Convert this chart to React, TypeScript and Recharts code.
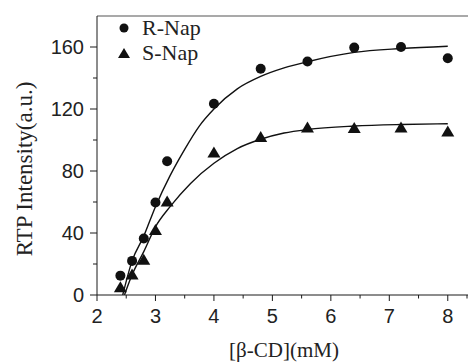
import React from 'react';
import { ComposedChart, Label, Line, ReferenceLine, Scatter, XAxis, YAxis } from 'recharts';

// measured points
const concX = [2.4, 2.6, 2.8, 3.0, 3.2, 4.0, 4.8, 5.6, 6.4, 7.2, 8.0];
const rNap = [12.5, 22, 36.4, 59.7, 86.3, 123.4, 146, 150.6, 159.6, 160, 152.7];
const sNap = [5, 13.3, 22.8, 42, 60.3, 92, 102, 108, 107.8, 108, 105.5];

// fitted curves
const rFitX = [2.44, 2.6, 2.8, 3.0, 3.25, 3.5, 3.75, 4.0, 4.4, 4.8, 5.2, 5.6, 6.4, 7.2, 8.0];
const rFitY = [0, 22, 38, 57, 77, 94, 109, 120, 133, 141, 146.5, 150.5, 156.5, 159, 160.5];
const sFitX = [2.47, 2.6, 2.8, 3.0, 3.25, 3.6, 4.0, 4.4, 4.8, 5.2, 5.6, 6.4, 7.2, 8.0];
const sFitY = [0, 13, 28, 44, 57, 72, 85, 94.5, 100.5, 104.5, 106.8, 109, 110, 110.5];

const xTicks = [2, 2.5, 3, 3.5, 4, 4.5, 5, 5.5, 6, 6.5, 7, 7.5, 8, 8.5];
const yTicks = [0, 20, 40, 60, 80, 100, 120, 140, 160];

const AXIS = '#1a1a1a';
const SANS = '"Liberation Sans", Arial, sans-serif';
const SERIF = '"Liberation Serif", "Times New Roman", serif';

const zip = (xs: number[], ys: number[]) => xs.map((x, i) => ({ x, y: ys[i] }));
const rPoints = zip(concX, rNap);
const sPoints = zip(concX, sNap);
const rFit = zip(rFitX, rFitY);
const sFit = zip(sFitX, sFitY);

function XTick({ x, y, payload }: any) {
  const major = Number.isInteger(payload.value);
  return (
    <g>
      <line x1={x} x2={x} y1={y} y2={y + (major ? 6 : 3.5)} stroke={AXIS} strokeWidth={1} />
      {major && payload.value <= 8 ? (
        <text x={x} y={y + 28} textAnchor="middle" fontFamily={SANS} fontSize={20} fill="#222">
          {payload.value}
        </text>
      ) : null}
    </g>
  );
}

function YTick({ x, y, payload }: any) {
  const major = payload.value % 40 === 0;
  return (
    <g>
      <line x1={x} x2={x - (major ? 7 : 4)} y1={y} y2={y} stroke={AXIS} strokeWidth={1} />
      {major ? (
        <text x={x - 13} y={y} dy="0.36em" textAnchor="end" fontFamily={SANS} fontSize={20} fill="#222">
          {payload.value}
        </text>
      ) : null}
    </g>
  );
}

const Dot = ({ cx, cy }: any) => <circle cx={cx} cy={cy} r={5} fill="#111" />;
const Tri = ({ cx, cy }: any) => (
  <polygon points={`${cx},${cy - 6} ${cx - 6.5},${cy + 5} ${cx + 6.5},${cy + 5}`} fill="#111" />
);

export default function App() {
  return (
    <div style={{ position: 'absolute', left: 0, top: 0, width: 468, height: 363, overflow: 'hidden', background: '#fff' }}>
      <ComposedChart width={477} height={363} margin={{ top: 16, right: 0, left: 37, bottom: 38 }}>
        <XAxis
          type="number"
          dataKey="x"
          domain={[2, 8.5]}
          ticks={xTicks}
          allowDataOverflow
          stroke={AXIS}
          tickSize={0}
          tickMargin={0}
          tick={<XTick />}
          height={30}
        >
          <Label
            content={() => (
              <text x={284} y={357} textAnchor="middle" fontFamily={SERIF} fontSize={21} fill="#222">
                [β-CD](mM)
              </text>
            )}
          />
        </XAxis>
        <YAxis
          type="number"
          dataKey="y"
          domain={[0, 180]}
          ticks={yTicks}
          allowDataOverflow
          stroke={AXIS}
          tickSize={0}
          tickMargin={0}
          tick={<YTick />}
          width={60}
        >
          <Label
            content={() => (
              <text
                x={32}
                y={169}
                transform="rotate(-90 32 169)"
                textAnchor="middle"
                fontFamily={SERIF}
                fontSize={23}
                fill="#222"
              >
                RTP Intensity(a.u.)
              </text>
            )}
          />
        </YAxis>
        <ReferenceLine y={180} stroke="#555" strokeWidth={1.2} />
        <Line data={rFit} dataKey="y" type="monotone" stroke="#111" strokeWidth={1.4} dot={false} isAnimationActive={false} />
        <Line data={sFit} dataKey="y" type="monotone" stroke="#111" strokeWidth={1.4} dot={false} isAnimationActive={false} />
        <Scatter name="R-Nap" data={rPoints} dataKey="y" shape={<Dot />} isAnimationActive={false} />
        <Scatter name="S-Nap" data={sPoints} dataKey="y" shape={<Tri />} isAnimationActive={false} />
      </ComposedChart>
      <div style={{ position: 'absolute', left: 116, top: 15, fontFamily: SERIF, fontSize: 22, color: '#222', lineHeight: '25px' }}>
        <div style={{ display: 'flex', alignItems: 'center' }}>
          <svg width={16} height={16} style={{ marginRight: 10 }}>
            <circle cx={8} cy={8} r={4.5} fill="#111" />
          </svg>
          R-Nap
        </div>
        <div style={{ display: 'flex', alignItems: 'center' }}>
          <svg width={16} height={16} style={{ marginRight: 10 }}>
            <polygon points="8,3 2,13 14,13" fill="#111" />
          </svg>
          S-Nap
        </div>
      </div>
    </div>
  );
}
